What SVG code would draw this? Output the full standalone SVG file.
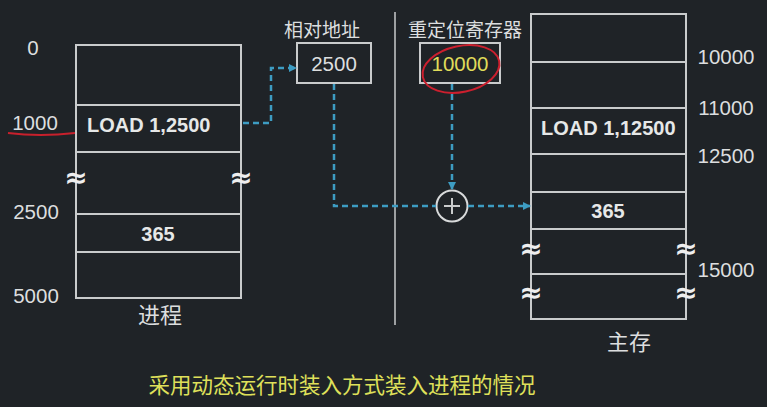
<svg xmlns="http://www.w3.org/2000/svg" width="767" height="407" viewBox="0 0 767 407">
<defs>
<marker id="ah" markerWidth="8" markerHeight="8" refX="7" refY="4" orient="auto" markerUnits="userSpaceOnUse">
<path d="M0,0 L8,4 L0,8 Z" fill="#3d9cc2"/>
</marker>
<style>
.box{fill:none;stroke:#c9cbcc;stroke-width:2}
.ln{stroke:#c9cbcc;stroke-width:2}
.lbl{font-family:"Liberation Sans","Noto Sans",sans-serif;font-size:20.5px;fill:#dcdedf}
.bold{font-family:"Liberation Sans",sans-serif;font-weight:bold;font-size:20px;fill:#e6e8e8}
.cjk{font-family:"Noto Sans CJK SC","Noto Sans",sans-serif;fill:#dcdedf}
.wave{font-family:"DejaVu Sans",sans-serif;font-weight:bold;font-size:28px;fill:#eeeeee}
.conn{fill:none;stroke:#3d9cc2;stroke-width:2.5;stroke-dasharray:6 4}
</style>
</defs>
<rect width="767" height="407" fill="#1f2327"/>

<g id="process">
<rect class="box" x="76" y="45" width="165" height="253"/>
<line class="ln" x1="76" y1="105" x2="241" y2="105"/>
<line class="ln" x1="76" y1="152" x2="241" y2="152"/>
<line class="ln" x1="76" y1="214" x2="241" y2="214"/>
<line class="ln" x1="76" y1="252" x2="241" y2="252"/>
<text class="bold" x="87" y="132">LOAD 1,2500</text>
<text class="bold" x="158" y="241" text-anchor="middle">365</text>
<text class="wave" x="76" y="187" text-anchor="middle">≈</text>
<text class="wave" x="241" y="187" text-anchor="middle">≈</text>
<text class="lbl" x="33" y="55" text-anchor="middle">0</text>
<text class="lbl" x="35" y="130" text-anchor="middle">1000</text>
<text class="lbl" x="36" y="219" text-anchor="middle">2500</text>
<text class="lbl" x="36" y="303" text-anchor="middle">5000</text>
<path d="M8,133 Q40,137 75,133" fill="none" stroke="#c8202c" stroke-width="2"/>
<text class="cjk" x="160" y="323" font-size="22" text-anchor="middle">进程</text>
</g>

<g id="reladdr">
<text class="cjk" x="322" y="37" font-size="19" text-anchor="middle">相对地址</text>
<rect class="box" x="297" y="43" width="74" height="40"/>
<text class="lbl" x="334" y="71" text-anchor="middle">2500</text>
</g>

<line id="divider" x1="395" y1="12" x2="395" y2="325" stroke="#c9cbcc" stroke-width="1.5"/>

<g id="reloc">
<text class="cjk" x="465" y="37" font-size="19" text-anchor="middle">重定位寄存器</text>
<rect class="box" x="420" y="43" width="80" height="40"/>
<text class="lbl" x="460" y="71" text-anchor="middle" style="fill:#e0dc5a">10000</text>
<ellipse cx="461" cy="69" rx="39" ry="23" fill="none" stroke="#cc1f2e" stroke-width="2" transform="rotate(-12 461 69)"/>
</g>

<g id="adder">
<circle cx="452" cy="206" r="15.5" fill="none" stroke="#d8dadb" stroke-width="2"/>
<line class="ln" x1="444" y1="206" x2="460" y2="206"/>
<line class="ln" x1="452" y1="198" x2="452" y2="214"/>
</g>

<g id="memory">
<rect class="box" x="531" y="14" width="155" height="305"/>
<line class="ln" x1="531" y1="62" x2="686" y2="62"/>
<line class="ln" x1="531" y1="108" x2="686" y2="108"/>
<line class="ln" x1="531" y1="154" x2="686" y2="154"/>
<line class="ln" x1="531" y1="192" x2="686" y2="192"/>
<line class="ln" x1="531" y1="229" x2="686" y2="229"/>
<line class="ln" x1="531" y1="274" x2="686" y2="274"/>
<text class="bold" x="541" y="135">LOAD 1,12500</text>
<text class="bold" x="608" y="218" text-anchor="middle">365</text>
<text class="wave" x="531" y="258" text-anchor="middle">≈</text>
<text class="wave" x="686" y="258" text-anchor="middle">≈</text>
<text class="wave" x="531" y="302" text-anchor="middle">≈</text>
<text class="wave" x="686" y="302" text-anchor="middle">≈</text>
<text class="lbl" x="726" y="64" text-anchor="middle">10000</text>
<text class="lbl" x="726" y="115" text-anchor="middle">11000</text>
<text class="lbl" x="726" y="163" text-anchor="middle">12500</text>
<text class="lbl" x="726" y="277" text-anchor="middle">15000</text>
<text class="cjk" x="629" y="350" font-size="22" text-anchor="middle">主存</text>
</g>

<g id="connectors">
<path class="conn" d="M243,123 H271 V68 H296" marker-end="url(#ah)"/>
<path class="conn" d="M334,84 V206 H436"/>
<path class="conn" d="M452,84 V189" marker-end="url(#ah)"/>
<path class="conn" d="M468,206 H530" marker-end="url(#ah)"/>
</g>

<text id="caption" class="cjk" x="342" y="393" font-size="21.5" text-anchor="middle" style="fill:#dfe05a">采用动态运行时装入方式装入进程的情况</text>
</svg>
